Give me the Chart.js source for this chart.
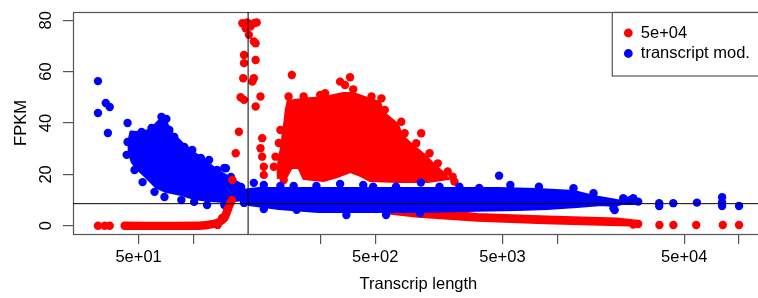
<!DOCTYPE html>
<html>
<head>
<meta charset="utf-8">
<script src="https://cdn.jsdelivr.net/npm/chart.js@4.4.0/dist/chart.umd.min.js"></script>
<style>
html,body{margin:0;padding:0;background:#fff;overflow:hidden;}
#wrap{width:768px;height:298px;}
</style>
</head>
<body>
<div id="wrap"><canvas id="plot" width="768" height="298"></canvas></div>
<script>
// axis ticks as printed on the figure
var xTickValues=[50,100,500,1000,5000,10000,50000,100000];
var xTickLabels=['5e+01','','','5e+02','5e+03','','5e+04',''];
var yTickValues=[0,20,40,60,80];
var yTickLabels=['0','20','40','60','80'];
var legendLabels=['5e+04','transcript mod.'];
var legendColors=['#ff0000','#0000ff'];
var cutLength=200;
var cutFpkm=8.6;

// red series (5e+04)
var redLeftLen=[29.9,32.6,34.7];
var redLeftFpkm=[0,0,0];
var redFloorLen=[41.9,108,125,139,148,153,159,163];
var redFloorFpkm=[0,0,0.5,1.5,3.0,5.5,8.5,10.0];
var redSpikeLen=[186,198,215,223,194,206,202,215,220,190,220,190,188,215,211,182,190,234,220,178,171,239,234,239,244,244,164,154,144,136];
var redSpikeFpkm=[78.8,79.1,78.8,79.1,76.9,77.5,74.3,71.7,71.0,66.5,64.5,63.3,57.4,57.4,56.1,50.0,49.0,50.3,46.4,36.6,28.2,34.1,30.2,26.9,23.0,19.8,17.8,6.1,3.0,0.3];
var redCloudLen=[330,404,526,668,757,938,1064,1105,1334,1403,1632,1898,2125,2380,2535,1946,1334,938,827,729,643,519,404,379,347,326,291,291,295,306,310,318,322];
var redCloudFpkm=[48.6,49.4,50.1,51.7,51.7,49.4,48.2,44.3,39.6,35.3,31.0,27.2,23.7,20.6,18.2,17.0,17.0,17.4,19.4,20.9,19.4,17.4,18.2,22.5,22.5,19.0,18.6,22.5,26.4,31.5,36.5,41.2,45.1];
var redEdgeLen=[348,641,682,727,757,334,404,498,530,589,954,1082,1129,1391,1451,1789,1680,1989,2208,2503,2665,2723,301,295,283,277,314];
var redEdgeFpkm=[58.7,56.1,54.8,57.8,53.1,50.3,50.3,50.9,51.6,49.0,50.3,49.6,45.1,40.5,36.0,36.0,32.1,28.2,24.3,21.1,19.1,17.2,37.3,32.2,26.9,23.0,17.8];
var redBandLen=[1176,3650,8810,21240,28400,28400,19460,8480,3650,2503,1716,1176];
var redBandFpkm=[8.1,4.6,3.6,2.8,1.9,0.0,0.3,1.0,2.0,2.7,3.5,4.8];
var redTailLen=[27900,26200,36500,43550,58150,81400,100000];
var redTailFpkm=[0.7,0.5,0.3,0.3,0.3,0.3,0.3];

// blue series (transcript mod.)
var blueLeftLen=[29.9,29.9,33.0,34.7,33.9];
var blueLeftFpkm=[56.3,43.9,47.8,46.2,36.1];
var blueCloudLen=[45.2,49.4,57.4,65.1,71.1,75.7,87.0,102,116,135,161,190,190,148,119,101,85.9,70.2,61.9,54.6,48.7,45.8,44.1,44.1];
var blueCloudFpkm=[36.7,36.5,37.3,41.2,40.4,36.5,32.2,28.3,25.6,21.7,18.6,15.5,10.0,9.3,9.7,10.4,12.0,13.2,15.1,19.0,22.3,24.8,28.7,33.4];
var blueEdgeLen=[43.5,43.0,43.5,51.9,58.9,66.8,71.1,73.8,78.6,89.2,98.6,110,122,135,148,161,183,47.5,52.6,61.2,69.4,85.9,101,119,148,190,151];
var blueEdgeFpkm=[40.0,27.6,32.6,36.5,38.1,42.4,41.6,37.3,34.6,30.7,29.5,26.4,25.6,21.7,22.5,19.0,15.1,21.7,17.0,13.2,11.2,10.0,9.3,8.1,8.1,8.9,22.4];
var blueBandLen=[190,229,379,1334,4695,7770,12370,15910,21240,26300,27330,27330,22600,20720,17600,12850,8810,6040,3650,1716,711,488,295,202,190];
var blueBandFpkm=[14.0,14.7,14.7,14.7,14.7,14.3,13.5,11.6,10.0,9.7,8.9,8.5,8.5,7.7,8.1,7.3,6.5,6.1,5.8,5.4,5.4,5.4,6.5,8.1,10.0];
var blueBandEdgeLen=[301,356,475,641,859,974,1301,1782,2255,2900,3730,4795,5530,7940,12300,15850,215,244,23100,25100,26200,27900,20400,370,694,1147,1760,20720,244];
var blueBandEdgeFpkm=[15.5,15.5,15.5,16.3,15.9,15.2,15.2,16.8,15.2,15.2,14.7,19.5,15.9,15.2,14.6,12.7,16.7,15.9,10.7,10.0,10.7,9.4,6.8,6.2,4.2,4.2,5.0,6.1,6.5];
var blueTailLen=[36400,36400,43500,58700,80700,80700,80700,100000];
var blueTailFpkm=[8.8,7.7,8.8,9.0,11.1,9.1,7.7,7.7];

var xMin=21.8, xMax=136800, yMin=-3.2, yMax=83.2;
var fontFamily='"Liberation Sans", Arial, Helvetica, sans-serif';

function pts(xs,ys)
{
    var out=[];
    for(var i=0;i<xs.length;i++) out.push({x:xs[i],y:ys[i]});
    return out;
}
// dense part of a cloud: an outline whose points are placed by the scales, filled by polyPlugin
function cloud(xs,ys,color,order)
{
    return {type:'scatter',data:pts(xs,ys),order:order,polygon:true,backgroundColor:color,
        borderColor:color,pointRadius:0,pointHoverRadius:0,showLine:false};
}
function dots(xs,ys,color,order)
{
    return {type:'scatter',data:pts(xs,ys),order:order,backgroundColor:color,borderColor:color,
        borderWidth:0,pointRadius:4.2,pointHoverRadius:4.2};
}

var polyPlugin={
    id:'polyfill',
    beforeDatasetDraw:function(chart,args)
    {
        var ds=chart.data.datasets[args.index];
        if(!ds.polygon) return;
        var p=args.meta.data, ctx=chart.ctx, a=chart.chartArea;
        ctx.save();
        ctx.beginPath();
        ctx.rect(a.left,a.top,a.right-a.left,a.bottom-a.top);
        ctx.clip();
        ctx.beginPath();
        for(var i=0;i<p.length;i++)
        {
            if(i===0) ctx.moveTo(p[i].x,p[i].y);
            else ctx.lineTo(p[i].x,p[i].y);
        }
        ctx.closePath();
        ctx.fillStyle=ds.backgroundColor;
        ctx.strokeStyle=ds.backgroundColor;
        ctx.lineWidth=2;
        ctx.lineJoin='round';
        ctx.fill();
        ctx.stroke();
        ctx.restore();
    }
};
var boxPlugin={
    id:'box',
    beforeDatasetsDraw:function(chart)
    {
        var a=chart.chartArea, ctx=chart.ctx;
        ctx.save();
        ctx.strokeStyle='#555';
        ctx.lineWidth=1.2;
        ctx.strokeRect(a.left+0.5,a.top+0.5,a.right-a.left,a.bottom-a.top);
        ctx.restore();
    }
};
var legendPlugin={
    id:'rlegend',
    afterDraw:function(chart)
    {
        var a=chart.chartArea, ctx=chart.ctx;
        var left=a.right-152, top=a.top;
        ctx.save();
        ctx.fillStyle='#fff';
        ctx.fillRect(left,top,200,64);
        ctx.strokeStyle='#555';
        ctx.lineWidth=1.2;
        ctx.strokeRect(left+0.5,top+0.5,200,63.5);
        ctx.font='16.5px '+fontFamily;
        ctx.textBaseline='middle';
        ctx.textAlign='left';
        for(var i=0;i<legendLabels.length;i++)
        {
            var y=top+21+i*20.5;
            ctx.fillStyle=legendColors[i];
            ctx.beginPath();
            ctx.arc(left+16.5,y,4.4,0,Math.PI*2);
            ctx.fill();
            ctx.fillStyle='#000';
            ctx.fillText(legendLabels[i],left+29,y);
        }
        ctx.restore();
    }
};

window.onload=function()
{
    var ctx=document.getElementById('plot').getContext('2d');
    var red='#ff0000', blue='#0000ff';
    new Chart(ctx,{
        type:'scatter',
        data:{
            datasets:[
                cloud(redCloudLen,redCloudFpkm,red,10),
                cloud(redBandLen,redBandFpkm,red,10),
                dots(redEdgeLen,redEdgeFpkm,red,9),
                dots(redTailLen,redTailFpkm,red,9),
                cloud(blueCloudLen,blueCloudFpkm,blue,6),
                cloud(blueBandLen,blueBandFpkm,blue,6),
                dots(blueEdgeLen,blueEdgeFpkm,blue,5),
                dots(blueBandEdgeLen,blueBandEdgeFpkm,blue,5),
                dots(blueLeftLen,blueLeftFpkm,blue,5),
                dots(blueTailLen,blueTailFpkm,blue,5),
                {type:'line',data:pts(redFloorLen,redFloorFpkm),order:3,borderColor:red,borderWidth:8.4,
                    borderCapStyle:'round',borderJoinStyle:'round',pointRadius:0,fill:false,tension:0.3},
                dots(redLeftLen,redLeftFpkm,red,3),
                dots(redSpikeLen,redSpikeFpkm,red,3),
                {type:'line',data:[{x:cutLength,y:yMin},{x:cutLength,y:yMax}],order:1,borderColor:'#000',
                    borderWidth:1,pointRadius:0,fill:false},
                {type:'line',data:[{x:xMin,y:cutFpkm},{x:xMax,y:cutFpkm}],order:1,borderColor:'#000',
                    borderWidth:1,pointRadius:0,fill:false}
            ]
        },
        options:{
            responsive:false,
            animation:false,
            events:[],
            layout:{padding:{top:12,left:0,right:0,bottom:0}},
            plugins:{legend:{display:false},tooltip:{enabled:false}},
            scales:{
                x:{
                    type:'logarithmic',
                    min:xMin,max:xMax,
                    afterBuildTicks:function(scale){scale.ticks=xTickValues.map(function(v){return {value:v};});},
                    afterFit:function(scale){scale.height=64;scale.paddingLeft=0;scale.paddingRight=0;},
                    grid:{drawOnChartArea:false,drawTicks:true,tickLength:10,color:'#555',lineWidth:1.2},
                    border:{display:false},
                    ticks:{autoSkip:false,maxRotation:0,minRotation:0,padding:4,color:'#000',
                        font:{family:fontFamily,size:16.5},
                        callback:function(v,i){return xTickLabels[i];}},
                    title:{display:true,text:'Transcrip length',color:'#000',
                        font:{family:fontFamily,size:16.5},padding:{top:0,bottom:4}}
                },
                y:{
                    min:yMin,max:yMax,
                    afterBuildTicks:function(scale){scale.ticks=yTickValues.map(function(v){return {value:v};});},
                    afterFit:function(scale){scale.width=73;scale.paddingTop=0;scale.paddingBottom=0;},
                    grid:{drawOnChartArea:false,drawTicks:true,tickLength:10,color:'#555',lineWidth:1.2},
                    border:{display:false},
                    ticks:{minRotation:90,maxRotation:90,crossAlign:'center',padding:7,color:'#000',
                        font:{family:fontFamily,size:16.5},
                        callback:function(v,i){return yTickLabels[i];}},
                    title:{display:true,text:'FPKM',color:'#000',
                        font:{family:fontFamily,size:16.5},padding:{top:12,bottom:0}}
                }
            }
        },
        plugins:[polyPlugin,boxPlugin,legendPlugin]
    });
};
</script>
</body>
</html>
